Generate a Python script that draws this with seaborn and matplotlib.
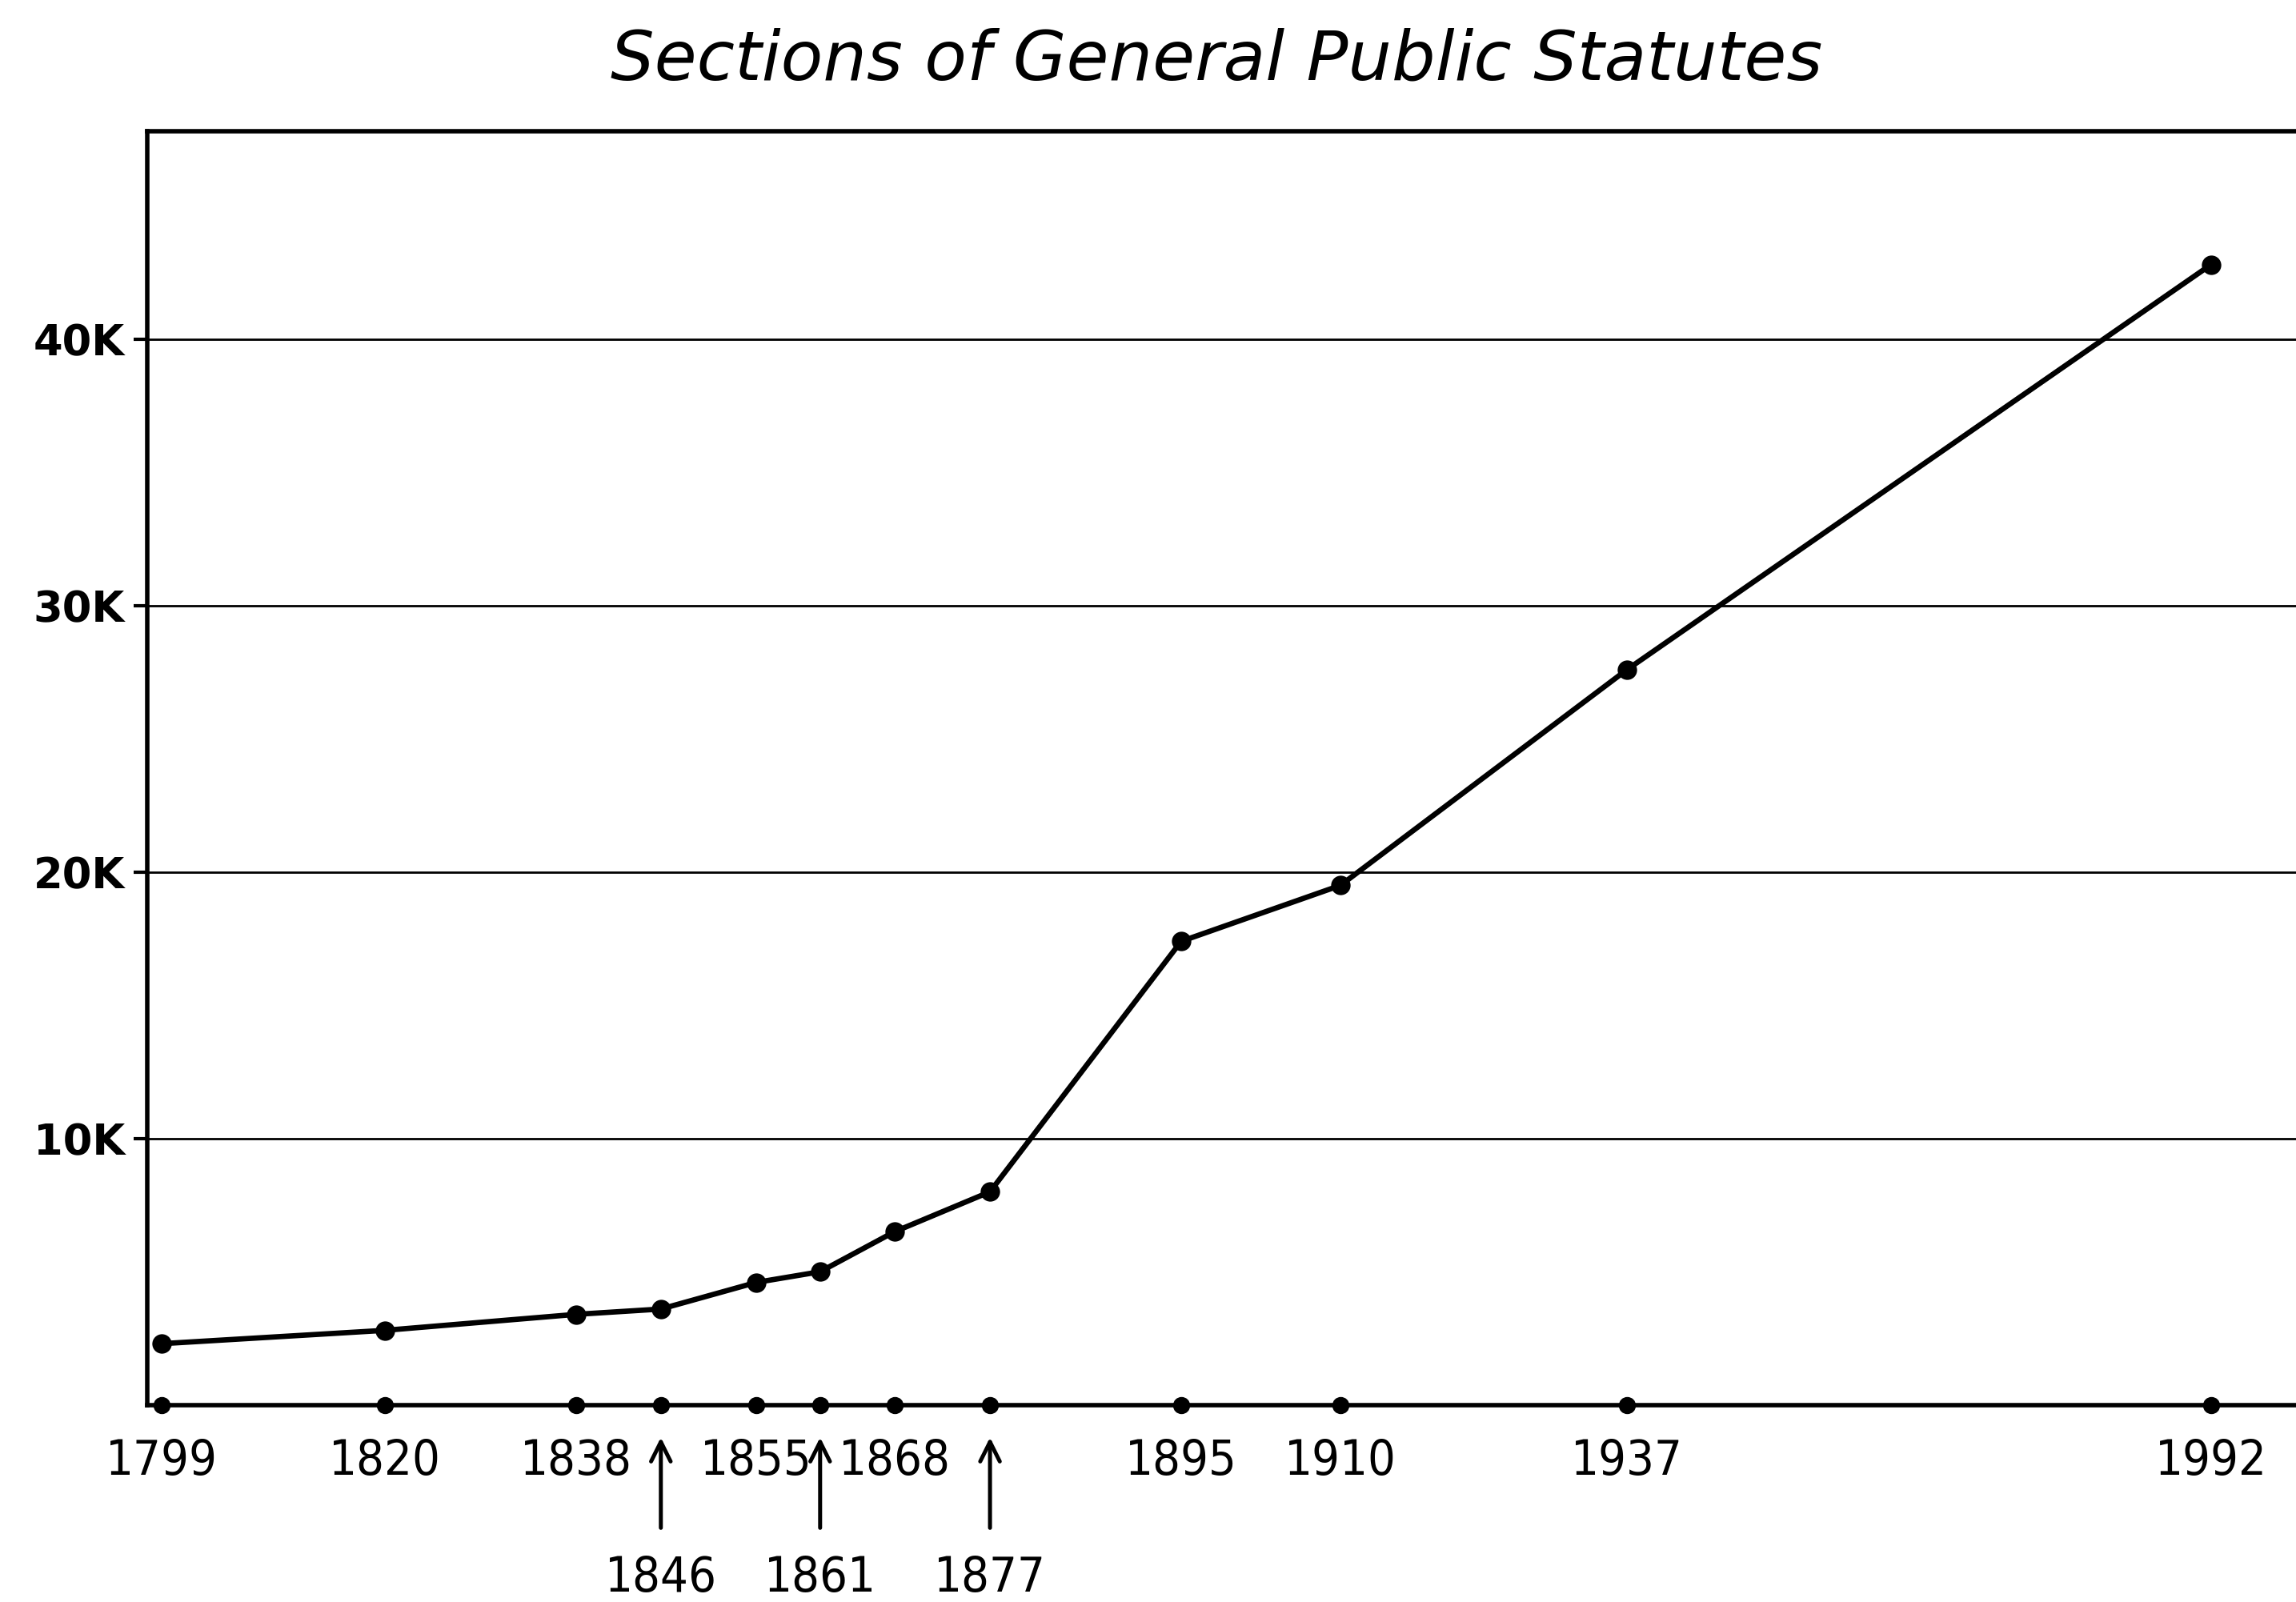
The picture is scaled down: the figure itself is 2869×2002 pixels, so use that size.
"""
Sections of General Public Statutes -- hand-drawn chart redone with seaborn
"""

import matplotlib
matplotlib.use("Agg")
import matplotlib.pyplot as plt
import seaborn as sns

years = [1799, 1820, 1838, 1846, 1855, 1861, 1868, 1877, 1895, 1910, 1937, 1992]
sections = [2300, 2800, 3400, 3600, 4600, 5000, 6500, 8000, 17400, 19500, 27600, 42800]
upper_row = [1799, 1820, 1838, 1855, 1868, 1895, 1910, 1937, 1992]
lower_row = [1846, 1861, 1877]
y_ticks = [10000, 20000, 30000, 40000]
y_labels = ["10K", "20K", "30K", "40K"]
title = "Sections of General Public Statutes"

sns.set_style("white")
plt.rcParams['font.family'] = ['DejaVu Sans']
plt.rcParams['text.color'] = 'black'
plt.rcParams['xtick.color'] = 'black'
plt.rcParams['ytick.color'] = 'black'

fig = plt.figure(figsize=(14.345, 10.01), dpi=200)
ax = fig.add_axes([0.064, 0.123, 0.936, 0.795])

sns.lineplot(x=years, y=sections, color='black', linewidth=2.4, marker='o',
             markersize=8, markeredgecolor='black', ax=ax)
# dots along the baseline at each year
ax.scatter(years, [0] * len(years), s=45, color='black', zorder=5, clip_on=False)

ax.set_xlim(1797.6, 2000)
ax.set_ylim(0, 47800)

for t in y_ticks:
    ax.axhline(t, color='black', linewidth=1.0, zorder=1)

ax.set_yticks(y_ticks)
ax.set_yticklabels(y_labels, fontsize=19, fontweight='bold')
ax.set_xticks(years)
ax.set_xticklabels([str(y) if y in upper_row else '' for y in years],
                   fontsize=22, fontstretch='condensed')
ax.tick_params(axis='x', length=0, pad=15)
ax.tick_params(axis='y', length=6, width=1.5, color='black', pad=4, left=True)

for yr in lower_row:
    ax.annotate('', xy=(yr, -0.022), xytext=(yr, -0.10),
                xycoords=('data', 'axes fraction'), textcoords=('data', 'axes fraction'),
                arrowprops=dict(arrowstyle='->', color='black', lw=1.8,
                                mutation_scale=22))
    ax.text(yr, -0.136, str(yr), transform=ax.get_xaxis_transform(),
            ha='center', va='center', fontsize=22, fontstretch='condensed')

for side in ['left', 'bottom', 'top']:
    ax.spines[side].set_color('black')
    ax.spines[side].set_linewidth(2.0)
ax.spines['right'].set_visible(False)

fig.text(0.53, 0.962, title, ha='center', va='center', fontsize=31, style='italic')

fig.savefig('out.png', dpi=200, facecolor='white')
